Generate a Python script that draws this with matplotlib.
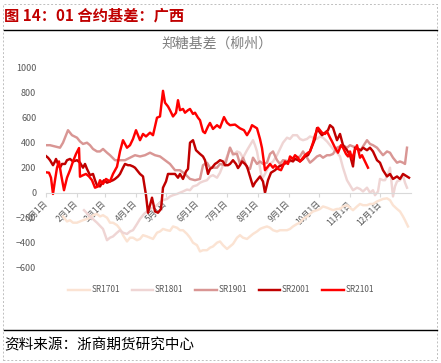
import matplotlib
matplotlib.use("Agg")
import matplotlib.pyplot as plt
from matplotlib.lines import Line2D
from matplotlib.patches import Rectangle

plt.rcParams['font.family'] = ['Noto Sans CJK SC', 'DejaVu Sans']

# ---- data (day of year, basis value) ----
months = ['1月1日', '2月1日', '3月1日', '4月1日', '5月1日', '6月1日',
          '7月1日', '8月1日', '9月1日', '10月1日', '11月1日', '12月1日']
month_days = [0, 31, 59, 90, 120, 151, 181, 212, 243, 273, 304, 334]

sr1701_days = [17, 21, 24, 27, 31, 34, 37, 41, 44, 47, 51, 54, 57, 61, 64, 67, 71, 74, 77, 81,
               84, 87, 91, 94, 97, 101, 104, 107, 111, 114, 117, 121, 124, 127, 131, 134, 137, 141, 144, 147,
               151, 154, 157, 161, 164, 167, 171, 174, 177, 181, 184, 187, 191, 194, 197, 201, 204, 207, 211, 214,
               217, 221, 224, 227, 231, 234, 237, 241, 244, 247, 251, 254, 257, 261, 264, 267, 271, 274, 277, 281,
               284, 287, 291, 294, 297, 301, 304, 307, 311, 314, 317, 321, 324, 327, 331, 334, 337, 341, 344, 347,
               351, 354, 357, 359, 362]
sr1701 = [-190, -230, -220, -240, -240, -230, -220, -210, -200, -180, -170, -190, -180, -200, -240, -240, -260, -290, -340, -390,
          -360, -360, -380, -370, -340, -350, -360, -370, -320, -310, -290, -300, -305, -270, -280, -300, -300, -330, -360, -400,
          -420, -470, -460, -460, -440, -430, -400, -390, -420, -450, -430, -410, -360, -340, -360, -370, -350, -330, -310, -290,
          -280, -270, -280, -300, -310, -300, -300, -300, -290, -270, -250, -240, -210, -190, -170, -150, -140, -130, -110, -120,
          -130, -140, -130, -130, -110, -100, -120, -140, -110, -90, -100, -100, -90, -90, -70, -60, -50, -45, -60, -100,
          -130, -150, -190, -220, -270]

sr1801_days = [38, 44, 51, 57, 61, 64, 67, 71, 74, 77, 81, 84, 87, 91, 94, 98, 101, 104, 107, 111,
               114, 117, 121, 124, 127, 131, 134, 137, 141, 144, 147, 151, 154, 157, 161, 164, 167, 171, 174, 177,
               179, 182, 184, 187, 191, 194, 197, 201, 204, 207, 209, 211, 214, 216, 219, 222, 224, 227, 231, 234,
               237, 241, 244, 247, 251, 254, 257, 261, 264, 267, 271, 274, 277, 281, 284, 287, 291, 294, 297, 301,
               304, 307, 311, 314, 317, 321, 324, 327, 329, 332, 334, 337, 339, 342, 344, 347, 349, 351, 354, 357,
               359, 361]
sr1801 = [-140, -190, -240, -290, -380, -360, -350, -320, -300, -320, -330, -310, -300, -250, -210, -170, -150, -130, -120, -100,
          -80, -60, -50, -30, -20, -10, 0, 10, 25, 20, 50, 60, 80, 90, 100, 130, 140, 120, 160, 220,
          250, 310, 360, 300, 330, 320, 280, 340, 380, 420, 380, 330, 200, 110, 150, 200, 230, 250, 300, 350,
          400, 440, 430, 460, 460, 430, 420, 430, 450, 440, 430, 450, 440, 410, 380, 350, 320, 290, 200, 100,
          60, 20, 40, 30, 10, 40, 0, 20, -20, 10, 110, 100, 100, 150, 200, -30, 50, 90, 100, 140,
          80, 40]

sr1901_days = [0, 4, 9, 14, 17, 19, 22, 26, 31, 34, 37, 41, 44, 47, 51, 54, 57, 61, 64, 69,
               74, 79, 84, 89, 94, 99, 104, 109, 114, 119, 124, 129, 134, 139, 144, 149, 154, 157, 161, 164,
               167, 171, 174, 179, 184, 187, 191, 194, 197, 201, 204, 207, 211, 214, 217, 221, 224, 227, 231, 234,
               237, 244, 251, 254, 257, 261, 264, 267, 271, 274, 277, 281, 284, 287, 291, 294, 297, 301, 304, 307,
               311, 314, 317, 321, 324, 327, 331, 334, 337, 341, 344, 347, 351, 354, 357, 359, 361]
sr1901 = [380, 380, 370, 360, 400, 440, 500, 460, 440, 410, 390, 400, 380, 350, 330, 330, 350, 320, 300, 260,
          260, 260, 280, 300, 290, 300, 320, 300, 290, 260, 230, 180, 180, 150, 110, 100, 110, 220, 240, 200,
          200, 200, 230, 220, 360, 310, 310, 230, 280, 200, 190, 280, 230, 250, 230, 240, 310, 330, 260, 230,
          260, 250, 280, 290, 330, 280, 240, 260, 290, 300, 280, 300, 300, 310, 360, 370, 380, 360, 380, 370,
          360, 330, 370, 420, 390, 380, 360, 330, 300, 330, 320, 280, 240, 250, 240, 230, 360]

sr2001_days = [0, 2, 4, 7, 9, 10, 12, 14, 16, 19, 21, 24, 27, 31, 34, 37, 39, 41, 44, 47,
               49, 51, 54, 56, 58, 61, 64, 67, 69, 72, 74, 77, 79, 82, 84, 87, 89, 92, 94, 97,
               100, 102, 104, 106, 109, 112, 115, 117, 120, 122, 126, 129, 132, 134, 137, 140, 142, 144, 147, 150,
               154, 157, 159, 162, 164, 166, 169, 171, 174, 177, 179, 182, 184, 187, 190, 192, 194, 196, 199, 201,
               204, 207, 209, 211, 214, 217, 219, 222, 225, 229, 233, 236, 238, 241, 244, 247, 249, 252, 254, 257,
               259, 262, 264, 267, 269, 271, 274, 276, 279, 282, 284, 287, 291, 294, 297, 301, 304, 307, 309, 312,
               315, 317, 321, 324, 327, 331, 334, 337, 341, 344, 347, 351, 354, 357, 361, 363]
sr2001 = [293, 280, 260, 220, 250, 270, 230, 200, 230, 230, 260, 270, 250, 260, 240, 200, 230, 190, 140, 150,
          100, 60, 50, 80, 100, 80, 90, 100, 110, 130, 150, 200, 230, 220, 220, 210, 200, 170, 150, 130,
          -20, -160, -100, -40, -150, -160, -130, 40, 90, 150, 150, 150, 120, 150, 110, 170, 190, 400, 420, 340,
          310, 290, 260, 150, 190, 200, 230, 240, 260, 250, 220, 220, 230, 260, 230, 197, 220, 250, 230, 210,
          130, 50, 80, 100, 130, 90, 0, 100, 160, 180, 210, 220, 230, 240, 260, 250, 270, 260, 250, 270,
          290, 300, 330, 390, 430, 517, 480, 460, 480, 500, 540, 520, 420, 470, 380, 340, 300, 210, 360, 350,
          340, 360, 340, 360, 330, 260, 240, 180, 130, 150, 110, 130, 110, 150, 130, 120]

sr2101_days = [0, 3, 5, 7, 9, 11, 13, 15, 18, 21, 24, 27, 30, 33, 34, 37, 40, 43, 46, 49,
               52, 54, 57, 60, 64, 67, 71, 74, 77, 81, 84, 87, 90, 94, 97, 100, 104, 107, 111, 114,
               117, 119, 122, 124, 127, 130, 132, 134, 137, 139, 142, 144, 147, 149, 152, 154, 157, 159, 162, 164,
               167, 171, 174, 178, 181, 184, 189, 194, 198, 201, 204, 206, 209, 211, 214, 216, 219, 222, 224, 227,
               229, 232, 235, 239, 242, 244, 247, 249, 252, 254, 257, 259, 262, 264, 267, 269, 272, 276, 279, 281,
               284, 286, 289, 292, 295, 297, 300, 302, 304, 306, 309, 311, 314, 316, 319, 322]
sr2101 = [163, 160, 120, -10, 100, 200, 250, 150, 20, 120, 180, 250, 310, 357, 128, 140, 150, 130, 100, 40,
          50, 100, 70, 110, 90, 150, 208, 330, 420, 360, 380, 430, 500, 420, 470, 450, 480, 460, 600, 610,
          815, 720, 690, 660, 610, 640, 740, 660, 670, 640, 660, 670, 630, 640, 600, 580, 490, 477, 530, 558,
          510, 540, 520, 605, 560, 540, 545, 515, 500, 460, 500, 540, 525, 515, 430, 357, 180, 210, 230, 200,
          220, 190, 180, 250, 230, 290, 270, 300, 280, 250, 280, 300, 320, 330, 400, 460, 520, 480, 470, 490,
          440, 410, 360, 320, 380, 360, 310, 290, 330, 270, 340, 380, 280, 300, 250, 200]

series = [
    ('SR1701', sr1701_days, sr1701, '#FBE3D3'),
    ('SR1801', sr1801_days, sr1801, '#EFD5D4'),
    ('SR1901', sr1901_days, sr1901, '#D99694'),
    ('SR2001', sr2001_days, sr2001, '#C00000'),
    ('SR2101', sr2101_days, sr2101, '#FF0000'),
]

W, H = 441, 363
fig = plt.figure(figsize=(W / 100, H / 100), dpi=100)

# frame and header/footer
fig.add_artist(Rectangle((3 / W, 3 / H), 434 / W, 356 / H, transform=fig.transFigure,
                         fill=False, ls=(0, (2, 2)), lw=0.7, ec='#BFBFBF'))
fig.text(4 / W, 1 - 15 / H, '图 14：01 合约基差：广西', fontsize=11, fontweight='bold',
         color='#C00000', va='center', ha='left')
fig.add_artist(Line2D([4 / W, 437 / W], [1 - 30 / H] * 2, color='black', lw=1))
fig.add_artist(Line2D([4 / W, 437 / W], [1 - 330 / H] * 2, color='black', lw=1))
fig.text(4 / W, 1 - 345 / H, '资料来源：浙商期货研究中心', fontsize=10.5, color='black',
         va='center', ha='left')
fig.text(217 / W, 1 - 44 / H, '郑糖基差（柳州）', fontsize=10, color='#7F7F7F',
         ha='center', va='center')

ax = fig.add_axes([46 / W, (H - 267.7) / H, 365 / W, 200 / H])
handles = []
for name, d, v, c in series:
    h, = ax.plot(d, v, color=c, lw=1.75, label=name, solid_joinstyle='round')
    handles.append(h)

ax.set_xlim(0, 365)
ax.set_ylim(-600, 1000)
ax.set_yticks(range(-600, 1001, 200))
for s in ['top', 'right', 'left']:
    ax.spines[s].set_visible(False)
ax.spines['bottom'].set_position(('data', 0))
ax.spines['bottom'].set_color('#D9D9D9')
ax.spines['bottom'].set_linewidth(0.8)
ax.set_xticks(month_days)
ax.set_xticklabels(months, rotation=45, ha='right', va='center', rotation_mode='anchor')
ax.tick_params(axis='x', length=3, color='#D9D9D9', labelsize=6, labelcolor='#595959', pad=4)
ax.tick_params(axis='y', length=0, labelsize=6.5, labelcolor='#595959', pad=7)

fig.legend(handles=handles, loc='center', bbox_to_anchor=(221 / W, 1 - 290 / H), ncol=5,
           frameon=False, fontsize=6, handlelength=2.6, handletextpad=0.2,
           columnspacing=1.4, labelcolor='#595959')

fig.savefig('out.png', dpi=100)
